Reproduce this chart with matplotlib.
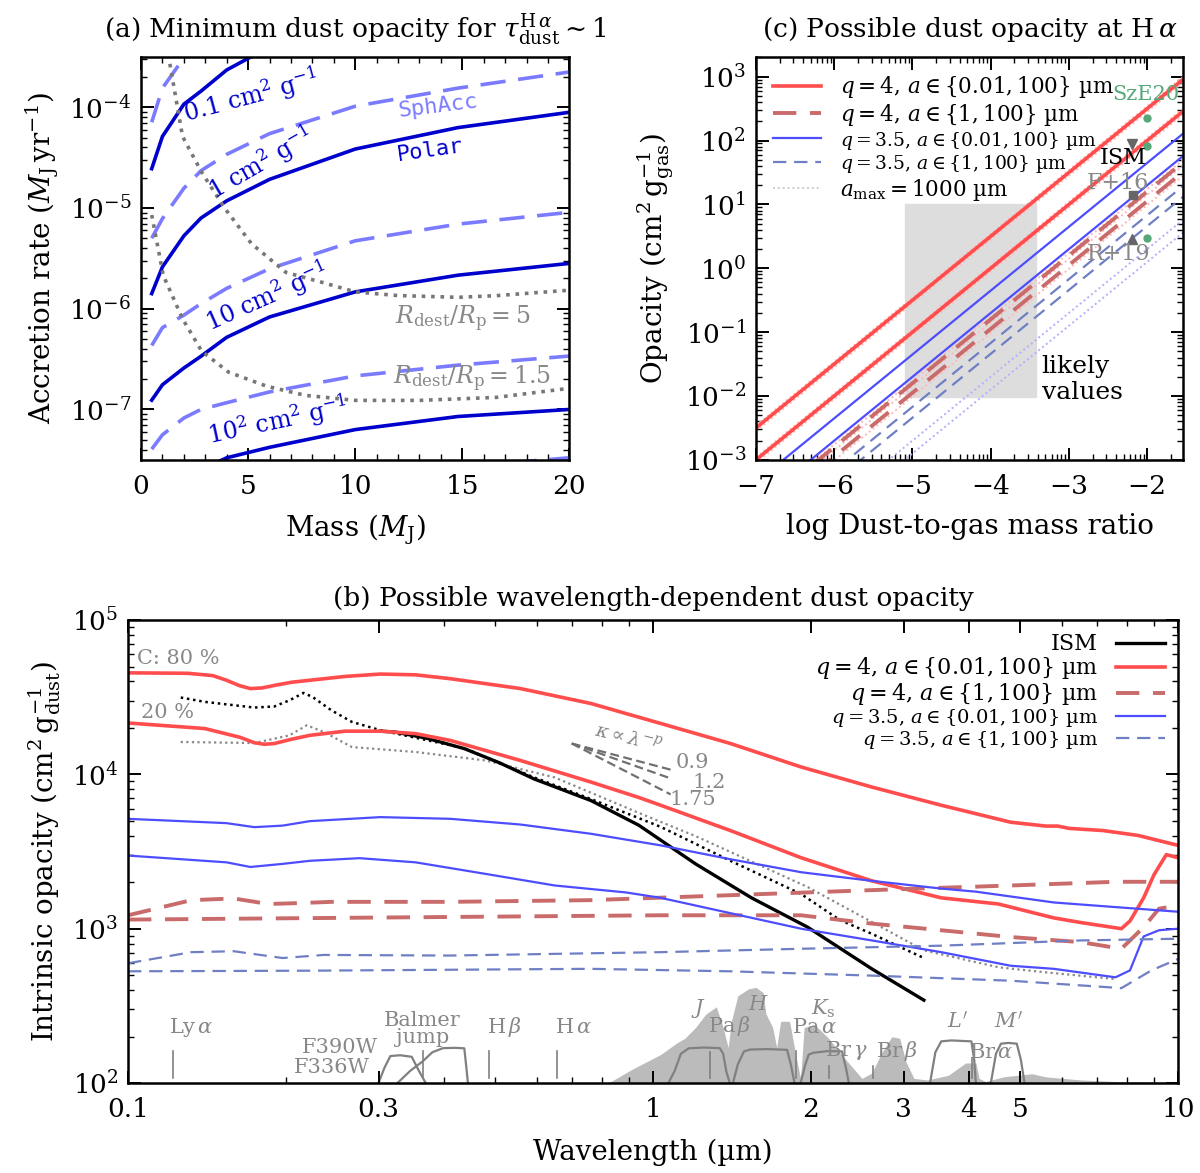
import numpy as np
import matplotlib
matplotlib.use("Agg")
import matplotlib.pyplot as plt
from matplotlib.ticker import FixedLocator, FixedFormatter, LogLocator, NullFormatter

# ── panel (a): minimum dust opacity ──────────────────────────────
mass = [0.5, 1, 2, 2.8, 4, 6, 10, 14.8, 20]
# log10 accretion rate (MJ/yr), polar accretion
lmd_polar_01 = [-4.61, -4.29, -3.97, -3.84, -3.63, -3.40, -3.15, -2.98, -2.85]
lmd_polar_1 = [-5.85, -5.585, -5.277, -5.10, -4.929, -4.716, -4.415, -4.202, -4.05]
lmd_polar_10 = [-6.908, -6.755, -6.589, -6.472, -6.284, -6.082, -5.833, -5.667, -5.55]
lmd_polar_100 = [-8.10, -7.95, -7.75, -7.60, -7.48, -7.376, -7.20, -7.07, -7.00]
# spherical accretion
lmd_sph_01 = [-4.149, -3.81, -3.51, -3.30, -3.10, -2.90, -2.70, -2.60, -2.50]
lmd_sph_1 = [-5.30, -5.106, -4.805, -4.63, -4.468, -4.262, -3.99, -3.81, -3.65]
lmd_sph_10 = [-6.365, -6.188, -6.064, -5.95, -5.798, -5.603, -5.326, -5.16, -5.043]
lmd_sph_100 = [-7.394, -7.252, -7.085, -7.00, -6.933, -6.826, -6.667, -6.56, -6.47]
lmd_sph_1000 = [-8.40, -8.25, -8.10, -8.00, -7.95, -7.85, -7.68, -7.57, -7.48]
# destruction radius curves
mass_r5 = [1.1, 1.3, 1.94, 2.83, 3.9, 5.16, 6.77, 8.57, 10, 11.97, 14.8, 16.6, 20]
lmd_r5 = [-3.2, -3.51, -4.29, -4.645, -5.0, -5.355, -5.64, -5.745, -5.833, -5.869, -5.887, -5.87, -5.816]
mass_r15 = [0.5, 1.04, 1.94, 2.83, 4.09, 5.88, 7.67, 10, 13, 16.6, 20]
lmd_r15 = [-5.07, -5.67, -6.1, -6.42, -6.63, -6.77, -6.86, -6.91, -6.91, -6.88, -6.79]

# ── panel (c): opacity at H alpha vs dust-to-gas ratio ───────────
log_dg = [-7.0, -1.5]
# log10 kappa_dust at H alpha (cm2/g of dust)
lk_red = [4.50, 4.00]
lk_red_dash = [3.20, 3.05]
lk_blue = [3.65, 3.30]
lk_blue_dash = [2.83, 2.66]
lk_red_dot = [4.54, 4.45, 4.04, 3.95, 3.24, 3.15, 2.99]
lk_blue_dot = [2.30, 2.10]
obs_sze_x = [-2.0, -2.0, -2.0]
obs_sze_y = [224, 83, 3.0]
obs_ism = (-2.19, 89)
obs_f16 = (-2.18, 13.8)
obs_r19 = (-2.19, 2.9)

# ── panel (b): wavelength-dependent opacity ──────────────────────
wl_red_80 = [0.1, 0.13, 0.145, 0.154, 0.163, 0.171, 0.18, 0.191, 0.205, 0.222, 0.26, 0.3025,
             0.353, 0.411, 0.559, 0.762, 1.034, 1.404, 1.914, 2.61, 3.54, 4.8, 5.6, 5.9, 6.2,
             7.2, 8.4, 10]
lk_red_80 = [4.658, 4.655, 4.64, 4.61, 4.575, 4.556, 4.56, 4.578, 4.597, 4.61, 4.635, 4.65,
             4.645, 4.62, 4.556, 4.459, 4.33, 4.2, 4.048, 3.918, 3.8, 3.69, 3.665, 3.665, 3.65,
             3.636, 3.604, 3.54]
wl_red_20 = [0.1, 0.14, 0.1635, 0.174, 0.182, 0.19, 0.205, 0.222, 0.259, 0.3025, 0.353, 0.411,
             0.559, 0.762, 0.94, 1.034, 1.404, 1.914, 2.61, 3.54, 4.55, 5.8, 6.53, 7.8, 8.1,
             8.6, 9.0, 9.5, 10]
lk_red_20 = [4.333, 4.297, 4.24, 4.205, 4.195, 4.2, 4.228, 4.253, 4.28, 4.28, 4.264, 4.22,
             4.09, 3.95, 3.85, 3.8, 3.636, 3.46, 3.31, 3.2, 3.16, 3.07, 3.04, 3.0, 3.05,
             3.2, 3.35, 3.48, 3.46]
wl_red_d1 = [0.1, 0.132, 0.159, 0.185, 0.216, 0.244, 0.41, 0.76, 1.4, 2.61, 4.8, 7.6, 10]
lk_red_d1 = [3.087, 3.185, 3.196, 3.16, 3.167, 3.174, 3.174, 3.185, 3.217, 3.25, 3.28, 3.304, 3.304]
wl_red_d2 = [0.1, 0.163, 0.41, 1.034, 1.914, 2.61, 3.54, 4.8, 6.53, 7.8, 8.6, 9.2, 10]
lk_red_d2 = [3.059, 3.065, 3.076, 3.087, 3.087, 3.033, 2.99, 2.946, 2.913, 2.87, 3.01, 3.13, 3.15]
wl_blue_1 = [0.1, 0.154, 0.174, 0.197, 0.222, 0.3025, 0.411, 0.559, 0.762, 1.034, 1.404, 1.914,
             2.61, 3.54, 4.12, 5.8, 7.6, 10]
lk_blue_1 = [3.712, 3.684, 3.658, 3.668, 3.697, 3.723, 3.712, 3.675, 3.615, 3.54, 3.45, 3.366,
             3.31, 3.26, 3.24, 3.17, 3.14, 3.11]
wl_blue_2 = [0.1, 0.154, 0.171, 0.197, 0.222, 0.276, 0.353, 0.48, 0.65, 0.888, 1.034, 1.914,
             2.61, 3.54, 4.8, 5.8, 7.6, 8.1, 8.6, 9.2, 10]
lk_blue_2 = [3.474, 3.43, 3.4, 3.42, 3.44, 3.457, 3.43, 3.355, 3.28, 3.235, 3.2, 3.0,
             2.924, 2.848, 2.76, 2.74, 2.685, 2.73, 2.95, 2.99, 3.0]
wl_blue_d1 = [0.1, 0.132, 0.159, 0.197, 0.236, 0.41, 1.034, 1.914, 3.54, 6.53, 10]
lk_blue_d1 = [2.776, 2.848, 2.854, 2.81, 2.83, 2.826, 2.848, 2.87, 2.89, 2.924, 2.935]
wl_blue_d2 = [0.1, 0.222, 0.76, 1.4, 2.61, 4.8, 7.8, 8.9, 10]
lk_blue_d2 = [2.724, 2.728, 2.74, 2.724, 2.696, 2.663, 2.615, 2.73, 2.804]
wl_ism = [0.3025, 0.3216, 0.37, 0.4368, 0.51, 0.594, 0.762, 0.94, 1.205, 1.54, 1.97, 2.61, 3.28]
lk_ism = [4.28, 4.275, 4.235, 4.167, 4.075, 3.97, 3.83, 3.67, 3.42, 3.2, 3.01, 2.74, 2.537]
wl_ism_dot = [0.126, 0.14, 0.174, 0.19, 0.203, 0.216, 0.225, 0.244, 0.267, 0.3025, 0.4368,
              0.594, 0.762, 1.034, 1.404, 1.914, 2.27, 2.61, 3.28]
lk_ism_dot = [4.498, 4.47, 4.433, 4.44, 4.48, 4.528, 4.50, 4.415, 4.34, 4.286, 4.17,
              3.98, 3.84, 3.66, 3.44, 3.225, 3.056, 2.967, 2.81]
wl_gray_dot = [0.126, 0.174, 0.203, 0.219, 0.236, 0.267, 0.353, 0.48, 0.65, 0.94, 1.205,
               1.97, 3.28, 4.55, 5.6, 7.6]
lk_gray_dot = [4.21, 4.203, 4.253, 4.318, 4.275, 4.177, 4.145, 4.09, 3.98, 3.75, 3.6,
               3.27, 2.86, 2.75, 2.717, 2.674]
slope_p = [0.9, 1.2, 1.75]

# atmospheric transmission (drawn as log10 height above 10^2)
wl_atm = [0.822, 0.91, 1.034, 1.11, 1.15, 1.205, 1.26, 1.32, 1.36, 1.39, 1.41, 1.45, 1.52,
          1.57, 1.62, 1.64, 1.69, 1.72, 1.75, 1.82, 1.87, 1.91, 1.94, 2.03, 2.16, 2.29, 2.4,
          2.5, 2.61, 2.73, 2.85, 2.95, 3.03, 3.14, 3.33, 3.65, 3.94, 4.12, 4.18, 4.3, 4.65,
          5.27, 5.6, 6.53, 7.6, 10]
lk_atm = [2.0, 2.087, 2.185, 2.26, 2.29, 2.36, 2.446, 2.494, 2.36, 2.23, 2.4, 2.565, 2.61,
          2.62, 2.587, 2.45, 2.36, 2.23, 2.4, 2.4, 2.18, 2.03, 2.36, 2.38, 2.29, 2.18, 2.1,
          2.03, 2.065, 2.2, 2.3, 2.29, 2.14, 2.03, 2.02, 2.05, 2.13, 2.13, 2.03, 2.01, 2.04,
          2.06, 2.04, 2.02, 2.01, 2.005]

# filter curves
filters = {
    "F336W": ([0.300, 0.308, 0.316, 0.330, 0.347, 0.358, 0.369],
              [2.0, 2.10, 2.175, 2.18, 2.17, 2.08, 2.0]),
    "F390W": ([0.326, 0.345, 0.364, 0.380, 0.398, 0.420, 0.437, 0.441, 0.444],
              [2.0, 2.08, 2.14, 2.20, 2.226, 2.228, 2.225, 2.10, 2.0]),
    "J": ([1.07, 1.10, 1.13, 1.17, 1.25, 1.34, 1.36, 1.38, 1.40],
          [2.0, 2.08, 2.19, 2.225, 2.23, 2.226, 2.19, 2.07, 2.0]),
    "H": ([1.42, 1.45, 1.49, 1.53, 1.65, 1.80, 1.83, 1.86],
          [2.0, 2.12, 2.205, 2.217, 2.22, 2.215, 2.12, 2.0]),
    "Ks": ([1.91, 1.95, 1.98, 2.02, 2.15, 2.29, 2.33, 2.36],
           [2.0, 2.12, 2.185, 2.196, 2.207, 2.205, 2.10, 2.0]),
    "L'": ([3.37, 3.45, 3.54, 3.70, 4.04, 4.09, 4.12],
           [2.0, 2.20, 2.27, 2.276, 2.27, 2.15, 2.0]),
    "M'": ([4.40, 4.50, 4.60, 4.75, 4.93, 5.02, 5.10],
           [2.0, 2.19, 2.255, 2.26, 2.255, 2.15, 2.0]),
}
line_wl = [0.1216, 0.3646, 0.4861, 0.6563, 1.282, 1.875, 2.166, 2.626, 4.052]
line_top = [2.207, 2.207, 2.207, 2.207, 2.20, 2.21, 2.11, 2.11, 2.16]

RED = "#ff4d4d"
RED_D = "#c96b6b"
BLUE = "#4d4dff"
BLUE_D = "#6f7fc4"
POLAR = "#0000cc"
SPH = "#7b7bff"
GRAYD = "#777777"
LGRAY = "#888888"

plt.rcParams.update({
    "font.family": ["DejaVu Serif"],
    "mathtext.fontset": "dejavuserif",
    "font.size": 17,
    "axes.linewidth": 1.8,
    "xtick.direction": "in", "ytick.direction": "in",
    "xtick.top": True, "ytick.right": True,
    "xtick.major.size": 9, "ytick.major.size": 9,
    "xtick.minor.size": 4.5, "ytick.minor.size": 4.5,
    "xtick.major.width": 1.4, "ytick.major.width": 1.4,
    "xtick.minor.width": 1.0, "ytick.minor.width": 1.0,
    "xtick.labelsize": 19, "ytick.labelsize": 19,
    "xtick.major.pad": 10, "ytick.major.pad": 7,
})

fig = plt.figure(figsize=(12, 11.73), dpi=100)
ax_a = fig.add_axes([0.1175, 0.608, 0.357, 0.3435])
ax_c = fig.add_axes([0.630, 0.608, 0.356, 0.3435])
ax_b = fig.add_axes([0.1067, 0.0767, 0.875, 0.3947])

# ---------------- (a) ----------------
m = np.array(mass)
for vals in [lmd_polar_01, lmd_polar_1, lmd_polar_10, lmd_polar_100]:
    ax_a.plot(m, 10 ** np.array(vals), color=POLAR, lw=2.6)
for vals in [lmd_sph_01, lmd_sph_1, lmd_sph_10, lmd_sph_100, lmd_sph_1000]:
    ax_a.plot(m, 10 ** np.array(vals), color=SPH, lw=2.6, dashes=(7, 3.5))
ax_a.plot(mass_r5, 10 ** np.array(lmd_r5), color=GRAYD, lw=2.6, ls=(0, (1, 1.6)))
ax_a.plot(mass_r15, 10 ** np.array(lmd_r15), color=GRAYD, lw=2.6, ls=(0, (1, 1.6)))
ax_a.set_yscale("log")
ax_a.set_xlim(0, 20)
ax_a.set_ylim(10 ** -7.5, 10 ** -3.5)
ax_a.set_xticks([0, 5, 10, 15, 20])
ax_a.xaxis.set_minor_locator(FixedLocator(np.arange(0, 20.1, 1)))
ax_a.yaxis.set_major_locator(LogLocator(base=10, numticks=20))
ax_a.yaxis.set_minor_locator(LogLocator(base=10, subs=np.arange(2, 10), numticks=20))
ax_a.yaxis.set_minor_formatter(NullFormatter())

lab_kw = dict(ha="center", va="center", rotation_mode="anchor", fontsize=17)
ax_a.text(5.16, 10 ** -3.883, r"0.1 cm$^2$ g$^{-1}$", color=POLAR, rotation=15, **lab_kw)
ax_a.text(5.6, 10 ** -4.557, r"1 cm$^2$ g$^{-1}$", color=POLAR, rotation=30, **lab_kw)
ax_a.text(5.88, 10 ** -5.887, r"10 cm$^2$ g$^{-1}$", color=POLAR, rotation=24, **lab_kw)
ax_a.text(6.4, 10 ** -7.11, r"10$^2$ cm$^2$ g$^{-1}$", color=POLAR, rotation=12, **lab_kw)
ax_a.text(13.85, 10 ** -3.99, "SphAcc", color=SPH, rotation=7, family="DejaVu Sans Mono",
          ha="center", va="center", rotation_mode="anchor", fontsize=16)
ax_a.text(13.5, 10 ** -4.43, "Polar", color=POLAR, rotation=8, family="DejaVu Sans Mono",
          ha="center", va="center", rotation_mode="anchor", fontsize=16)
ax_a.text(15.0, 10 ** -6.1, r"$R_\mathrm{dest}/R_\mathrm{p}=5$", color=LGRAY,
          ha="center", va="center", fontsize=17)
ax_a.text(15.47, 10 ** -6.70, r"$R_\mathrm{dest}/R_\mathrm{p}=1.5$", color=LGRAY,
          ha="center", va="center", fontsize=17)
ax_a.set_xlabel(r"Mass ($M_\mathrm{J}$)", fontsize=20, labelpad=10)
ax_a.set_ylabel(r"Accretion rate ($M_\mathrm{J}\,\mathrm{yr}^{-1}$)", fontsize=20, labelpad=6)
ax_a.set_title(r"(a) Minimum dust opacity for $\tau_\mathrm{dust}^{\mathrm{H}\,\alpha}\sim 1$",
               fontsize=19, pad=14)

# ---------------- (c) ----------------
xdg = np.array(log_dg)
dust = 10 ** xdg
for c in lk_red_dot:
    ax_c.plot(xdg, dust * 10 ** c, color="#ffb8b8", lw=1.4, ls=(0, (1, 1.5)))
for c in lk_blue_dot:
    ax_c.plot(xdg, dust * 10 ** c, color="#b0b0ff", lw=1.4, ls=(0, (1, 1.5)))
ax_c.fill_between([-5.1, -3.42], 0.0095, 10, color="#dddddd", zorder=0)
h1, = ax_c.plot(xdg, dust * 10 ** lk_red[0], color=RED, lw=2.6)
ax_c.plot(xdg, dust * 10 ** lk_red[1], color=RED, lw=2.6)
h2, = ax_c.plot(xdg, dust * 10 ** lk_red_dash[0], color=RED_D, lw=2.8, dashes=(6, 3.5))
ax_c.plot(xdg, dust * 10 ** lk_red_dash[1], color=RED_D, lw=2.8, dashes=(6, 3.5))
h3, = ax_c.plot(xdg, dust * 10 ** lk_blue[0], color=BLUE, lw=1.6)
ax_c.plot(xdg, dust * 10 ** lk_blue[1], color=BLUE, lw=1.6)
h4, = ax_c.plot(xdg, dust * 10 ** lk_blue_dash[0], color=BLUE_D, lw=1.6, dashes=(6, 3.5))
ax_c.plot(xdg, dust * 10 ** lk_blue_dash[1], color=BLUE_D, lw=1.6, dashes=(6, 3.5))
h5, = ax_c.plot([], [], color="#cccccc", lw=1.4, ls=(0, (1, 1.5)))
ax_c.plot(obs_sze_x, obs_sze_y, "o", color="#55a878", ms=5)
ax_c.plot(*obs_ism, "v", color="#666666", ms=7)
ax_c.plot(*obs_f16, "s", color="#666666", ms=6)
ax_c.plot(*obs_r19, "^", color="#666666", ms=7)
ax_c.text(-2.02, 10 ** 2.72, "SzE20", color="#55a878", ha="center", va="center", fontsize=15)
ax_c.text(-2.31, 10 ** 1.72, "ISM", color="black", ha="center", va="center", fontsize=16)
ax_c.text(-2.37, 10 ** 1.33, "F+16", color=LGRAY, ha="center", va="center", fontsize=16)
ax_c.text(-2.37, 10 ** 0.23, "R+19", color=LGRAY, ha="center", va="center", fontsize=16)
ax_c.text(-3.35, 0.018, "likely\nvalues", ha="left", va="center", fontsize=18,
          linespacing=1.15)
ax_c.set_yscale("log")
ax_c.set_xlim(-7, -1.54)
ax_c.set_ylim(1e-3, 10 ** 3.31)
ax_c.set_xticks([-7, -6, -5, -4, -3, -2])
ax_c.xaxis.set_minor_locator(FixedLocator(
    [n + np.log10(k) for n in range(-7, -1) for k in range(2, 10)]))
ax_c.yaxis.set_major_locator(LogLocator(base=10, numticks=20))
ax_c.yaxis.set_minor_locator(LogLocator(base=10, subs=np.arange(2, 10), numticks=20))
ax_c.yaxis.set_minor_formatter(NullFormatter())
leg_c = ax_c.legend([h1, h2, h3, h4, h5],
                    [r"$q=4$, $a\in\{0.01,100\}$ µm", r"$q=4$, $a\in\{1,100\}$ µm",
                     r"$q=3.5$, $a\in\{0.01,100\}$ µm", r"$q=3.5$, $a\in\{1,100\}$ µm",
                     r"$a_\mathrm{max}=1000$ µm"],
                    loc="upper left", frameon=False, fontsize=15.5, handlelength=2.2,
                    labelspacing=0.08, borderaxespad=0.4, handletextpad=0.9)
for t in leg_c.get_texts()[2:4]:
    t.set_fontsize(13.5)
ax_c.set_xlabel("log Dust-to-gas mass ratio", fontsize=20, labelpad=10)
ax_c.set_ylabel(r"Opacity (cm$^2\,$g$_\mathrm{gas}^{-1}$)", fontsize=20, labelpad=6)
ax_c.set_title(r"(c) Possible dust opacity at H$\,\alpha$", fontsize=19, pad=14)

# ---------------- (b) ----------------
def pl(wl, lk, **kw):
    return ax_b.plot(wl, 10 ** np.array(lk), **kw)[0]

ax_b.fill_between(wl_atm, 100, 10 ** np.array(lk_atm), color="#bbbbbb", lw=0, zorder=0)
for name, (fw, fh) in filters.items():
    ax_b.plot(fw, 10 ** np.array(fh), color="#808080", lw=1.6, zorder=1)
for w, top in zip(line_wl, line_top):
    ax_b.plot([w, w], [10 ** 2.033, 10 ** top], color="#808080", lw=1.2)

pl(wl_gray_dot, lk_gray_dot, color="#888888", lw=1.6, ls=(0, (1, 1.5)))
pl(wl_ism_dot, lk_ism_dot, color="black", lw=1.8, ls=(0, (1, 1.5)))
hb1 = pl(wl_ism, lk_ism, color="black", lw=2.4)
hb2 = pl(wl_red_80, lk_red_80, color=RED, lw=2.6)
pl(wl_red_20, lk_red_20, color=RED, lw=2.6)
hb3 = pl(wl_red_d1, lk_red_d1, color=RED_D, lw=2.8, dashes=(6, 3.5))
pl(wl_red_d2, lk_red_d2, color=RED_D, lw=2.8, dashes=(6, 3.5))
hb4 = pl(wl_blue_1, lk_blue_1, color=BLUE, lw=1.6)
pl(wl_blue_2, lk_blue_2, color=BLUE, lw=1.6)
hb5 = pl(wl_blue_d1, lk_blue_d1, color=BLUE_D, lw=1.6, dashes=(6, 3.5))
pl(wl_blue_d2, lk_blue_d2, color=BLUE_D, lw=1.6, dashes=(6, 3.5))

# power-law slope indicators
for p in slope_p:
    w = np.array([0.70, 1.08])
    ax_b.plot(w, 10 ** 4.2 * (w / 0.70) ** (-p), color="#707070", lw=1.6, dashes=(4, 2))
ax_b.text(1.19, 10 ** 4.076, "0.9", color=LGRAY, ha="center", va="center", fontsize=15)
ax_b.text(1.28, 10 ** 3.95, "1.2", color=LGRAY, ha="center", va="center", fontsize=15)
ax_b.text(1.19, 10 ** 3.84, "1.75", color=LGRAY, ha="center", va="center", fontsize=15)
ax_b.text(0.9, 10 ** 4.24, r"$\kappa\propto\lambda^{-p}$", color=LGRAY, rotation=-14,
          ha="center", va="center", fontsize=14)
ax_b.text(0.104, 10 ** 4.75, "C: 80 %", color=LGRAY, ha="left", va="center", fontsize=15)
ax_b.text(0.106, 10 ** 4.40, "20 %", color=LGRAY, ha="left", va="center", fontsize=15)

lab = dict(color=LGRAY, ha="center", va="center", fontsize=15)
ax_b.text(0.132, 10 ** 2.36, r"Ly$\,\alpha$", **lab)
ax_b.text(0.364, 10 ** 2.35, "Balmer\njump", linespacing=0.85, **lab)
ax_b.text(0.52, 10 ** 2.36, r"H$\,\beta$", **lab)
ax_b.text(0.705, 10 ** 2.36, r"H$\,\alpha$", **lab)
ax_b.text(1.40, 10 ** 2.37, r"Pa$\,\beta$", **lab)
ax_b.text(2.03, 10 ** 2.36, r"Pa$\,\alpha$", **lab)
ax_b.text(2.34, 10 ** 2.21, r"Br$\,\gamma$", **lab)
ax_b.text(2.92, 10 ** 2.21, r"Br$\,\beta$", **lab)
ax_b.text(4.4, 10 ** 2.20, r"Br$\,\alpha$", **lab)
ax_b.text(0.299, 10 ** 2.23, "F390W", color=LGRAY, ha="right", va="center", fontsize=15)
ax_b.text(0.289, 10 ** 2.10, "F336W", color=LGRAY, ha="right", va="center", fontsize=15)
ax_b.text(1.22, 10 ** 2.48, r"$J$", **lab)
ax_b.text(1.59, 10 ** 2.51, r"$H$", **lab)
ax_b.text(2.11, 10 ** 2.48, r"$K_\mathrm{s}$", **lab)
ax_b.text(3.8, 10 ** 2.40, r"$L'$", **lab)
ax_b.text(4.75, 10 ** 2.40, r"$M'$", **lab)

ax_b.set_xscale("log")
ax_b.set_yscale("log")
ax_b.set_xlim(0.1, 10)
ax_b.set_ylim(1e2, 1e5)
xt = [0.1, 0.3, 1, 2, 3, 4, 5, 10]
ax_b.xaxis.set_major_locator(FixedLocator(xt))
ax_b.xaxis.set_major_formatter(FixedFormatter(["0.1", "0.3", "1", "2", "3", "4", "5", "10"]))
ax_b.xaxis.set_minor_locator(FixedLocator([0.2, 0.4, 0.5, 0.6, 0.7, 0.8, 0.9, 6, 7, 8, 9]))
ax_b.xaxis.set_minor_formatter(NullFormatter())
ax_b.yaxis.set_major_locator(LogLocator(base=10, numticks=20))
ax_b.yaxis.set_minor_locator(LogLocator(base=10, subs=np.arange(2, 10), numticks=20))
ax_b.yaxis.set_minor_formatter(NullFormatter())
leg_b = ax_b.legend([hb1, hb2, hb3, hb4, hb5],
                    ["ISM", r"$q=4$, $a\in\{0.01,100\}$ µm", r"$q=4$, $a\in\{1,100\}$ µm",
                     r"$q=3.5$, $a\in\{0.01,100\}$ µm", r"$q=3.5$, $a\in\{1,100\}$ µm"],
                    loc="upper right", frameon=False, fontsize=16, markerfirst=False,
                    handlelength=2.2, labelspacing=0.0, borderaxespad=0.2)
for t in leg_b.get_texts()[3:]:
    t.set_fontsize(14)
ax_b.set_xlabel("Wavelength (µm)", fontsize=20, labelpad=12)
ax_b.set_ylabel(r"Intrinsic opacity (cm$^2\,$g$_\mathrm{dust}^{-1}$)", fontsize=20, labelpad=6)
ax_b.set_title("(b) Possible wavelength-dependent dust opacity", fontsize=19, pad=10)

fig.savefig("out.png", dpi=100)
